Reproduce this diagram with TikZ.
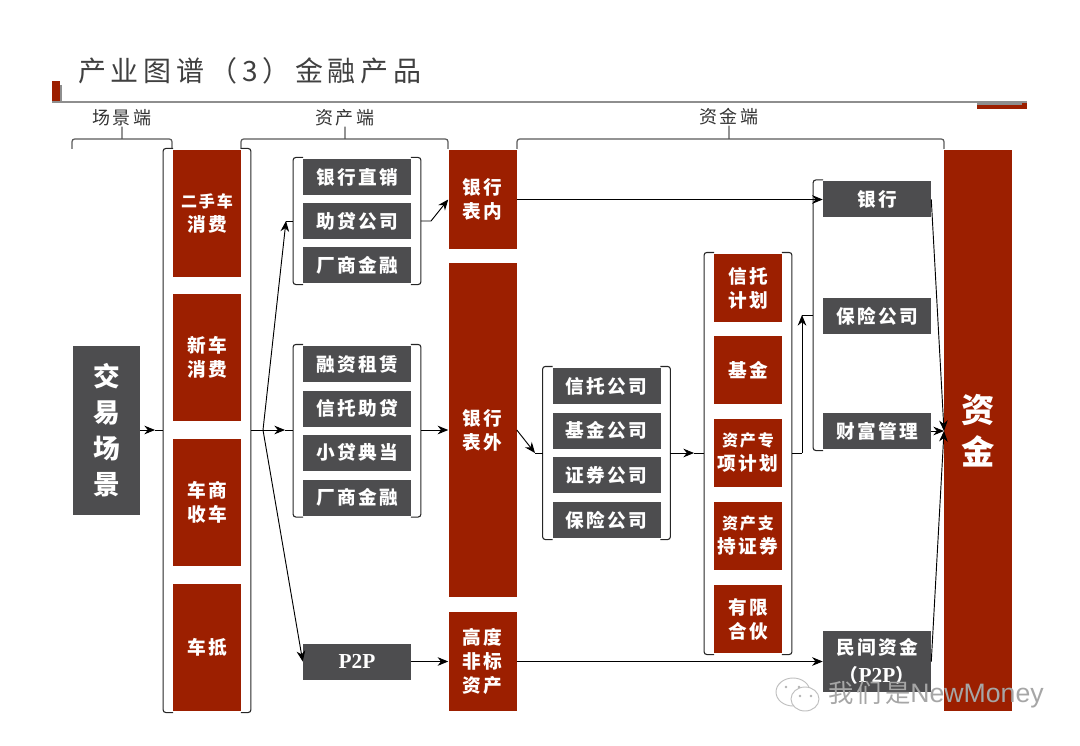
\documentclass[tikz,border=0pt]{standalone}
\usepackage{fontspec}
\setmainfont{Liberation Serif}
\newfontfamily\cjk[LetterSpace=12]{Noto Sans CJK SC}
\newfontfamily\cjktitle[LetterSpace=17]{Noto Sans CJK SC}
\usetikzlibrary{arrows.meta,fit}
\definecolor{brickred}{HTML}{9C1F00}
\definecolor{slategray}{HTML}{4D4D4F}
\definecolor{rulegray}{HTML}{8E8E8E}
\newcommand{\leftbkt}[1]{\draw[bkt] ([xshift=7.5pt]#1.north west) -| (#1.south west) -- ++(7.5pt,0);}
\newcommand{\rightbkt}[1]{\draw[bkt] ([xshift=-7.5pt]#1.north east) -| (#1.south east) -- ++(-7.5pt,0);}
\newcommand{\latinbig}[1]{{\rmfamily\fontsize{16}{21}\selectfont #1}}
\tikzset{
	graybox/.style={fill=slategray,text=white,inner sep=0pt,minimum width=81pt,minimum height=27pt,align=center,
		font=\cjk\bfseries\fontsize{14}{21}\selectfont},
	redbox/.style={fill=brickred,text=white,inner sep=0pt,minimum width=51pt,align=center,
		font=\cjk\bfseries\fontsize{14}{18}\selectfont},
	head/.style={inner sep=0pt,text=black!80,font=\cjk\fontsize{13.5}{16}\selectfont},
	wrapbox/.style={inner xsep=7pt,inner ysep=0.75pt},
	bkt/.style={black!85,line width=0.8pt,rounded corners=2pt},
	brace/.style={black!65,line width=0.9pt,rounded corners=2pt},
	link/.style={black,line width=0.7pt}
}
\begin{document}
\begin{tikzpicture}[x=0.75pt,y=-0.75pt,>={Stealth[length=8pt,width=6.5pt]}]
	\useasboundingbox (0,0) rectangle (1080,745);
	% title and rule
	\node[anchor=west,inner sep=0pt,text=black!75,font=\cjktitle\fontsize{21}{24}\selectfont] (title) at (78,71) {产业图谱（3）金融产品};
	\fill[brickred] (52,81) rectangle (60,102);
	\fill[rulegray] (60,85) rectangle (61.5,102);
	\fill[brickred] (977,102) rectangle (1027,109);
	\fill[rulegray] (977,102) rectangle (1022,105.5);
	\draw[rulegray,line width=1pt] (52,102)--(1027,102);
	
	% headers and braces
	\node[head] (sceneHead) at (122,118) {场景端};
	\node[head] (assetHead) at (345,118) {资产端};
	\node[head] (fundHead) at (729,117) {资金端};
	\draw[brace] (72,149) |- (172,139) -- (172,149) (sceneHead.south) -- (122,139);
	\draw[brace] (241,149) |- (448,139) -- (448,149) (assetHead.south) -- (345,139);
	\draw[brace] (517,149) |- (944,139) -- (944,149) (fundHead.south) -- (729,139);
	
	% left column
	\node[fill=slategray,text=white,inner sep=0pt,minimum width=50.5pt,minimum height=127pt,align=center,
		font=\cjk\bfseries\fontsize{20}{27}\selectfont] (trade) at (106.5,430.5) {交\\易\\场\\景};
	\foreach \nm/\cy/\txt in {carsA/213.5/{\fontsize{12}{18}\selectfont 二手车\\\fontsize{14}{18}\selectfont 消费},carsB/357.5/{新车\\消费},carsC/502.5/{车商\\收车},carsD/647.5/{车抵}}{
		\node[redbox,minimum height=95.25pt] (\nm) at (207,\cy) {\txt};
	}
	\node[wrapbox,fit=(carsA)(carsD)] (carsW) {};
	\leftbkt{carsW}
	\rightbkt{carsW}
	
	% asset side
	\foreach \nm/\cy/\txt in {upA/177/银行直销,upB/221/助贷公司,upC/265/厂商金融,midA/364/融资租赁,midB/408.5/信托助贷,midC/452.5/小贷典当,midD/497.5/厂商金融}{
		\node[graybox] (\nm) at (357,\cy) {\txt};
	}
	\node[graybox] (ptop) at (357,661.5) {\latinbig{P2P}};
	\node[wrapbox,fit=(upA)(upC)] (upW) {};
	\node[wrapbox,fit=(midA)(midD)] (midW) {};
	\leftbkt{upW}
	\rightbkt{upW}
	\leftbkt{midW}
	\rightbkt{midW}
	\node[redbox,minimum height=73.5pt] (onBook) at (482.5,199.5) {银行\\表内};
	\node[redbox,minimum height=250.5pt] (offBook) at (482.5,430) {银行\\表外};
	\node[redbox,minimum height=74.25pt] (nonStd) at (482.5,661.5) {高度\\非标\\资产};
	
	% channels and products
	\foreach \nm/\cy/\txt in {firmA/386/信托公司,firmB/430.5/基金公司,firmC/475/证券公司,firmD/520/保险公司}{
		\node[graybox] (\nm) at (606.5,\cy) {\txt};
	}
	\node[wrapbox,fit=(firmA)(firmD)] (firmW) {};
	\leftbkt{firmW}
	\rightbkt{firmW}
	\foreach \nm/\cy/\txt in {prodA/288/{信托\\计划},prodB/370/{基金},prodC/453/{\fontsize{12}{18}\selectfont 资产专\\项计划},prodD/536/{\fontsize{12}{18}\selectfont 资产支\\持证券},prodE/619/{有限\\合伙}}{
		\node[redbox,minimum height=51pt] (\nm) at (748,\cy) {\txt};
	}
	\node[wrapbox,fit=(prodA)(prodE)] (prodW) {};
	\leftbkt{prodW}
	\rightbkt{prodW}
	
	% funding side
	\foreach \nm/\cy/\txt in {bank/199.5/银行,insure/316/保险公司,wealth/431/财富管理}{
		\node[graybox] (\nm) at (877,\cy) {\txt};
	}
	\node[graybox,minimum height=45.75pt] (folk) at (877,661.5) {民间资金\\（\latinbig{P2P}）};
	\node[wrapbox,fit=(bank)(wealth)] (fundW) {};
	\leftbkt{fundW}
	\node[fill=brickred,text=white,inner sep=0pt,minimum width=51pt,minimum height=421pt,align=center,
		font=\cjk\bfseries\fontsize{25}{31.5}\selectfont] (fund) at (978,430.5) {资\\金};
	
	% connectors
	\coordinate (tipA) at (155,430);
	\coordinate (forkA) at (263,430);
	\coordinate (tipB) at (286,221);
	\coordinate (tipC) at (285,430);
	\coordinate (bendA) at (431,221);
	\coordinate (tipD) at (535,453);
	\coordinate (tipE) at (694,453);
	\coordinate (bendB) at (802,453);
	\coordinate (tipF) at (802,315);
	\coordinate (tipG) at (944,431);
	\draw[link,->] (trade.east|-tipA) -- (tipA);
	\draw[link] (tipA) -- (carsW.west|-tipA);
	\draw[link] (carsW.east|-forkA) -- (forkA);
	\draw[link,->] (forkA) -- (tipB);
	\draw[link] (tipB) -- (upW.west|-tipB);
	\draw[link,->] (forkA) -- (tipC);
	\draw[link] (tipC) -- (midW.west|-tipC);
	\draw[link,->] (forkA) -- (ptop.west);
	\draw[link,->] (upW.east|-bendA) -- (bendA) -- (onBook.west);
	\draw[link,->] (midW.east|-offBook) -- (offBook.west);
	\draw[link,->] (ptop.east) -- (nonStd.west);
	\draw[link,->] (onBook.east) -- (bank.west);
	\draw[link,->] (offBook.east) -- (tipD);
	\draw[link] (tipD) -- (firmW.west|-tipD);
	\draw[link,->] (firmW.east|-tipE) -- (tipE);
	\draw[link] (tipE) -- (prodW.west|-tipE);
	\draw[link] (prodW.east|-bendB) -- (bendB);
	\draw[link,->] (bendB) -- (tipF);
	\draw[link] (tipF) -- (fundW.west|-tipF);
	\draw[link,->] (nonStd.east) -- (folk.west);
	\draw[link,->] (bank.east) -- (tipG);
	\draw[link,->] (wealth.east) -- (tipG);
	\draw[link,->] (folk.east) -- (tipG);
	
	% watermark
	\draw[black!25,line width=0.7pt,fill=white,rounded corners=1pt] (793,692) ellipse [x radius=17,y radius=14];
	\draw[black!25,line width=0.7pt,fill=white] (805,699) ellipse [x radius=14,y radius=12];
	\foreach \ex/\ey in {786/687,799/687,800/696,811/696}{
		\fill[black!30] (\ex,\ey) circle [radius=1.4];
	}
	\node[anchor=west,inner sep=0pt,text=black!35,font=\fontspec{Liberation Sans}\fontsize{20}{22}\selectfont] (mark) at (828,695) {{\cjk\fontsize{19}{22}\selectfont 我们是}NewMoney};
\end{tikzpicture}
\end{document}
